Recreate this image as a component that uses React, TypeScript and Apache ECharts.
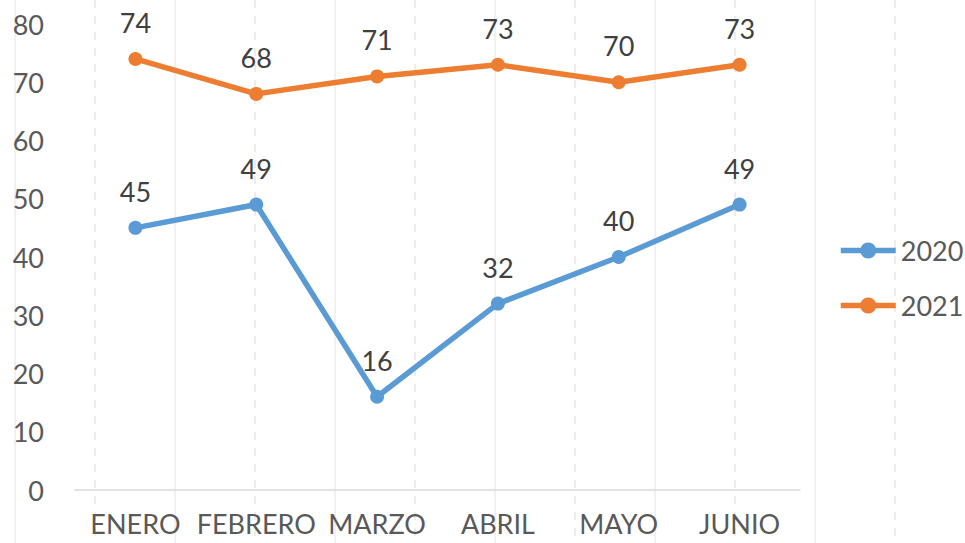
import React, { useEffect, useRef } from "react";
import * as echarts from "echarts";

const categories = ["ENERO", "FEBRERO", "MARZO", "ABRIL", "MAYO", "JUNIO"];
const values2020 = [45, 49, 16, 32, 40, 49];
const values2021 = [74, 68, 71, 73, 70, 73];
const seriesNames = ["2020", "2021"];
const yTicks = { min: 0, max: 80, interval: 10 };

const FONT = "Lato, 'Open Sans', sans-serif";
const BLUE = "#5B9BD5";
const ORANGE = "#ED7D31";
const FS = 27;

export default function App() {
  const ref = useRef<HTMLDivElement>(null);
  useEffect(() => {
    document.body.style.margin = "0";
    const chart = echarts.init(ref.current!, null, { renderer: "svg" });
    const bgLines: any[] = [];
    for (let i = 0; i < 12; i++) {
      const x = 15 + i * 80;
      const dashed = i % 2 === 1;
      bgLines.push({
        type: "line",
        z: -10,
        shape: { x1: x, y1: 0, x2: x, y2: 543 },
        style: {
          stroke: dashed ? "#e8e8e8" : "#ececec",
          lineWidth: 1.5,
          lineDash: dashed ? [8, 8] : null,
        },
        silent: true,
      });
    }
    const mkSeries = (name: string, data: number[], color: string) => ({
      name,
      type: "line",
      data,
      symbol: "circle",
      symbolSize: 14,
      lineStyle: { color, width: 5.5 },
      itemStyle: { color },
      label: {
        show: true,
        position: "top",
        distance: 16,
        color: "#404040",
        fontFamily: FONT,
        fontSize: FS,
      },
      z: 5,
    });
    chart.setOption({
      animation: false,
      backgroundColor: "#ffffff",
      textStyle: { fontFamily: FONT },
      graphic: bgLines,
      grid: { left: 75, right: 165, top: 24, bottom: 53, containLabel: false },
      legend: {
        orient: "vertical",
        left: 838,
        top: 237,
        padding: 0,
        itemWidth: 55,
        itemHeight: 20,
        itemGap: 28,
        data: seriesNames,
        lineStyle: { width: 5.5 },
        textStyle: { color: "#595959", fontFamily: FONT, fontSize: FS },
      },
      xAxis: {
        type: "category",
        data: categories,
        boundaryGap: true,
        axisLine: { show: true, lineStyle: { color: "#d9d9d9", width: 1.5 } },
        axisTick: { show: false },
        splitLine: { show: false },
        axisLabel: { color: "#595959", fontFamily: FONT, fontSize: FS, margin: 20, interval: 0 },
      },
      yAxis: {
        type: "value",
        min: yTicks.min,
        max: yTicks.max,
        interval: yTicks.interval,
        axisLine: { show: false },
        axisTick: { show: false },
        splitLine: { show: false },
        axisLabel: { color: "#595959", fontFamily: FONT, fontSize: FS, margin: 31 },
      },
      series: [
        mkSeries(seriesNames[0], values2020, BLUE),
        mkSeries(seriesNames[1], values2021, ORANGE),
      ],
    });
    return () => chart.dispose();
  }, []);
  return (
    <div
      ref={ref}
      style={{ position: "absolute", left: 0, top: 0, width: 965, height: 543 }}
    />
  );
}
